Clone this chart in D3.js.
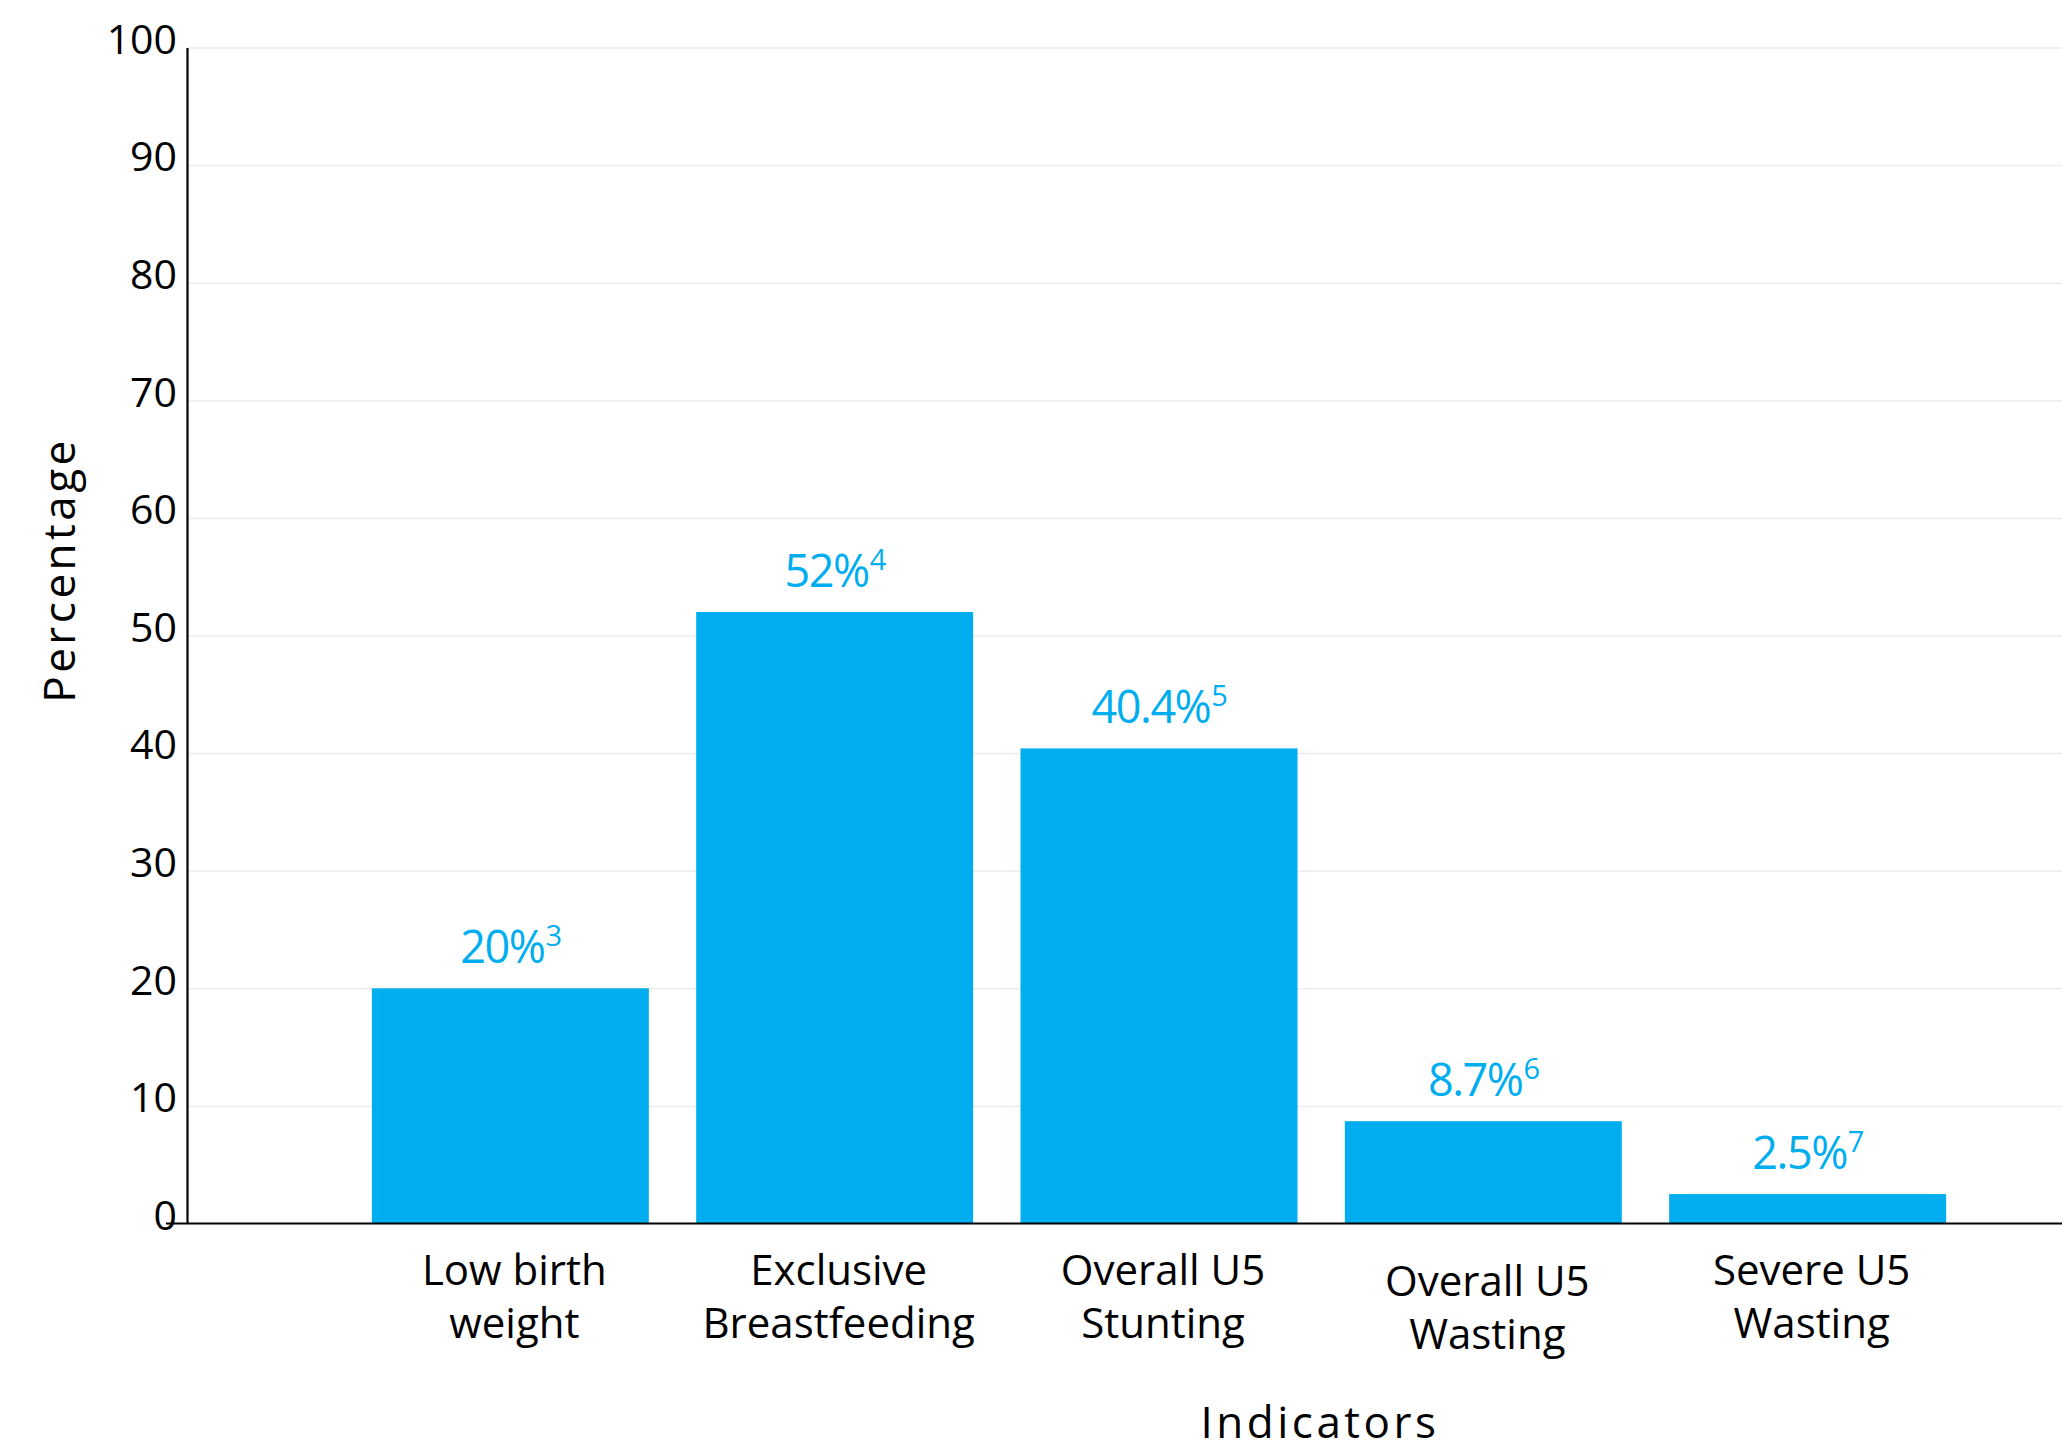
<!DOCTYPE html>
<html>
<head>
<meta charset="utf-8">
<script src="https://cdn.jsdelivr.net/npm/d3@7"></script>
<style>
  html, body { margin: 0; padding: 0; background: #fff; }
  svg { display: block; font-family: "Open Sans", sans-serif; }
</style>
</head>
<body>
<svg id="chart" width="2062" height="1451"></svg>
<script>
// ---- data ----
const categories = ["Low birth weight", "Exclusive Breastfeeding", "Overall U5 Stunting", "Overall U5 Wasting", "Severe U5 Wasting"];
const categoryLines = [["Low birth", "weight"], ["Exclusive", "Breastfeeding"], ["Overall U5", "Stunting"], ["Overall U5", "Wasting"], ["Severe U5", "Wasting"]];
const values = [20, 52, 40.4, 8.7, 2.5];
const valueLabels = ["20%", "52%", "40.4%", "8.7%", "2.5%"];
const footnotes = ["3", "4", "5", "6", "7"];
const yTicks = [0, 10, 20, 30, 40, 50, 60, 70, 80, 90, 100];
const yTitle = "Percentage";
const xTitle = "Indicators";

// ---- layout ----
const W = 2062, H = 1451;
const plotLeft = 187, plotTop = 47.5, plotBottom = 1223.5;
const barColor = "#00AEEF";

const svg = d3.select("#chart");

const y = d3.scaleLinear().domain([0, 100]).range([plotBottom, plotTop]);
const x = d3.scaleBand().domain(categories).range([plotLeft, 2131]).paddingInner(0.146).paddingOuter(0.57);

// gridlines
const grid = svg.append("g").attr("transform", `translate(${plotLeft},0)`)
  .call(d3.axisLeft(y).tickValues(yTicks.filter(d => d > 0)).tickSize(-(W - plotLeft)).tickFormat(""));
grid.select(".domain").remove();
grid.selectAll("line").attr("stroke", "#ececec").attr("stroke-width", 1.5);

// bars
svg.append("g").selectAll("rect").data(values).join("rect")
  .attr("x", (d, i) => x(categories[i]))
  .attr("y", d => y(d))
  .attr("width", x.bandwidth())
  .attr("height", d => y(0) - y(d))
  .attr("fill", barColor);

// y axis
const yAxis = svg.append("g").attr("transform", `translate(${plotLeft},0)`)
  .call(d3.axisLeft(y).tickValues(yTicks).tickSize(0).tickPadding(10).tickFormat(d3.format("d")));
yAxis.select(".domain").attr("stroke", "#000").attr("stroke-width", 2.2);
yAxis.selectAll("text").attr("font-size", 41).attr("fill", "#000")
  .attr("font-family", "'Open Sans', sans-serif").attr("dy", "0.14em");

// x axis line
svg.append("line")
  .attr("x1", 166).attr("x2", W)
  .attr("y1", y(0)).attr("y2", y(0))
  .attr("stroke", "#000").attr("stroke-width", 2.2);

// value labels
const vl = svg.append("g").selectAll("text").data(values).join("text")
  .attr("x", (d, i) => x(categories[i]) + x.bandwidth() / 2)
  .attr("y", d => y(d) - 25)
  .attr("text-anchor", "middle")
  .attr("fill", barColor)
  .attr("font-size", 45)
  .attr("letter-spacing", "-1.5px");
vl.append("tspan").text((d, i) => valueLabels[i]);
vl.append("tspan").text((d, i) => footnotes[i])
  .attr("font-size", 29).attr("dx", 1).attr("dy", -17);

// category labels
const lineOffsets = [0, 0, 0, 11, 0];
const cl = svg.append("g").selectAll("text").data(categoryLines).join("text")
  .attr("text-anchor", "middle")
  .attr("font-size", 42)
  .attr("fill", "#000")
  .attr("transform", (d, i) => `translate(${x(categories[i]) + x.bandwidth() / 2 + 4},${1285 + lineOffsets[i]})`);
cl.selectAll("tspan").data(d => d).join("tspan")
  .attr("x", 0)
  .attr("y", (d, j) => j * 53)
  .text(d => d);

// axis titles
svg.append("text")
  .attr("x", 1320).attr("y", 1438)
  .attr("text-anchor", "middle")
  .attr("font-size", 44)
  .attr("letter-spacing", "3.5px")
  .attr("fill", "#000")
  .text(xTitle);

svg.append("text")
  .attr("transform", "translate(75,570) rotate(-90)")
  .attr("text-anchor", "middle")
  .attr("font-size", 44)
  .attr("letter-spacing", "3.5px")
  .attr("fill", "#000")
  .text(yTitle);
</script>
</body>
</html>
